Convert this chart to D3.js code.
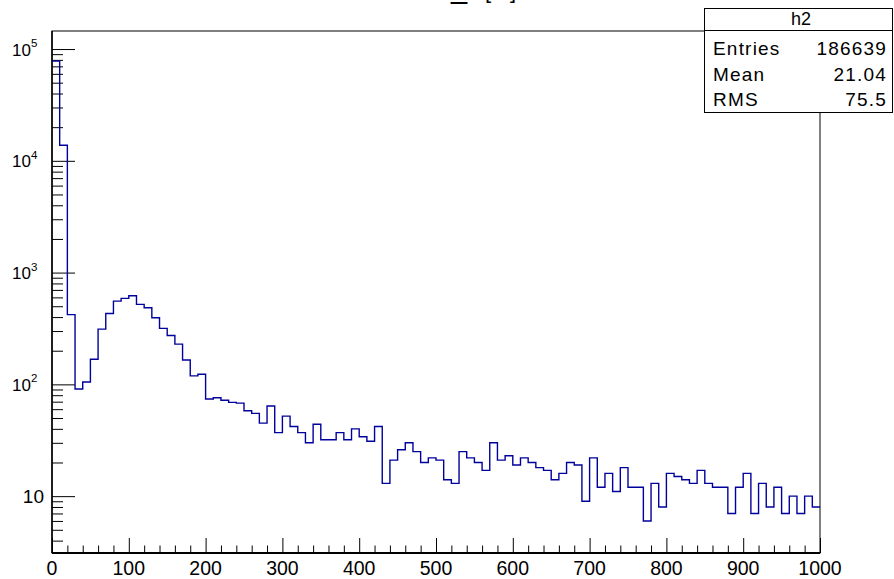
<!DOCTYPE html>
<html>
<head>
<meta charset="utf-8">
<script src="https://cdn.jsdelivr.net/npm/d3@7"></script>
<style>
  body { margin: 0; background: #fff; }
  svg { display: block; font-family: "Liberation Sans", Arial, Helvetica, sans-serif; }
</style>
</head>
<body>
<svg id="chart" width="894" height="579"></svg>
<script>
'use strict';

// histogram h2: 100 bins of width 10 from 0 to 1000
var binWidth = 10
var binCounts = [
    78000, 13800, 421, 91, 105, 168, 312, 431, 556, 588,
    620, 520, 485, 394, 317, 274, 229, 165, 119, 123,
    74, 76, 72, 69, 68, 58, 55, 45, 64, 37,
    52, 42, 37, 30, 44, 32, 32, 37, 32, 40,
    34, 31, 42, 13, 21, 26, 30, 25, 20, 22,
    21, 14, 13, 25, 22, 20, 17, 30, 21, 23,
    19, 22, 20, 18, 17, 14, 16, 20, 19, 9,
    22, 12, 16, 11, 18, 12, 12, 6, 13, 8,
    16, 15, 14, 13, 17, 13, 12, 12, 7, 12,
    16, 7, 13, 8, 12, 7, 10, 7, 10, 8
]
var xMajorTicks = [0, 100, 200, 300, 400, 500, 600, 700, 800, 900, 1000]
var yDecades = [1, 2, 3, 4, 5]
var statsRows = [["Entries", "186639"], ["Mean", "21.04"], ["RMS", "75.5"]]
var histName = "h2"

var svg = d3.select("#chart")
var frameLeft = 52, frameRight = 820, frameTop = 31, frameBottom = 553
var lineColor = "#00009c"

var x = d3.scaleLinear().domain([0, 1000]).range([frameLeft, frameRight])
var y = d3.scaleLog().domain([3.1, 1.45e5]).range([frameBottom, frameTop])

// minor ticks for the log axis
var yMinor = []
for (var e = 0; e <= 5; e++) {
    for (var m = 2; m <= 9; m++) {
        var v = m * Math.pow(10, e)
        if (v >= y.domain()[0] && v <= y.domain()[1]) yMinor.push(v)
    }
}
var yMajor = yDecades.map(function(d) { return Math.pow(10, d) })
var xMinor = d3.range(0, 1001, 20).filter(function(d) { return d % 100 !== 0 })

// title, cut off by the top edge as in the original canvas
var title = svg.append("text")
    .attr("y", -2.5)
    .attr("font-size", 22)
    .attr("fill", "#000")
title.append("tspan").attr("x", 451).attr("font-size", 29).text("_")
title.append("tspan").attr("x", 485).text("[")
title.append("tspan").attr("x", 494).text("0")
title.append("tspan").attr("x", 510).text("]")

// frame
svg.append("rect")
    .attr("x", frameLeft).attr("y", frameTop)
    .attr("width", frameRight - frameLeft).attr("height", frameBottom - frameTop)
    .attr("fill", "none").attr("stroke", "#000").attr("stroke-width", 1)

function styleAxis(g) {
    g.select(".domain").remove()
    g.selectAll("text").remove()
    g.selectAll("line").attr("stroke", "#000").attr("stroke-width", 1)
}

// y axis: ticks point inward
svg.append("g")
    .attr("transform", "translate(" + frameLeft + ",0)")
    .call(d3.axisLeft(y).tickValues(yMajor).tickSizeInner(-23).tickSizeOuter(0))
    .call(styleAxis)
svg.append("g")
    .attr("transform", "translate(" + frameLeft + ",0)")
    .call(d3.axisLeft(y).tickValues(yMinor).tickSizeInner(-11).tickSizeOuter(0))
    .call(styleAxis)

// x axis
svg.append("g")
    .attr("transform", "translate(0," + frameBottom + ")")
    .call(d3.axisBottom(x).tickValues(xMajorTicks).tickSizeInner(-15).tickSizeOuter(0))
    .call(styleAxis)
svg.append("g")
    .attr("transform", "translate(0," + frameBottom + ")")
    .call(d3.axisBottom(x).tickValues(xMinor).tickSizeInner(-7.5).tickSizeOuter(0))
    .call(styleAxis)

svg.append("line")
    .attr("x1", frameLeft).attr("x2", frameRight).attr("y1", frameBottom).attr("y2", frameBottom)
    .attr("stroke", "#000").attr("stroke-width", 2)
svg.append("line")
    .attr("x1", frameLeft).attr("x2", frameLeft).attr("y1", frameTop).attr("y2", frameBottom)
    .attr("stroke", "#000").attr("stroke-width", 1.5)

// x tick labels
svg.append("g").selectAll("text")
    .data(xMajorTicks)
    .enter().append("text")
    .attr("x", function(d) { return x(d) })
    .attr("y", 575)
    .attr("text-anchor", "middle")
    .attr("font-size", 19.5)
    .text(function(d) { return d })

// y tick labels: 10 plain, others as powers of ten
var yLabels = svg.append("g").selectAll("g")
    .data(yDecades)
    .enter().append("g")
yLabels.append("text")
    .attr("x", function(d) { return d === 1 ? 44 : 31 })
    .attr("y", function(d) { return y(Math.pow(10, d)) + 6.5 })
    .attr("text-anchor", "end")
    .attr("font-size", function(d) { return d === 1 ? 19 : 17 })
    .text("10")
yLabels.filter(function(d) { return d !== 1 }).append("text")
    .attr("x", 31)
    .attr("y", function(d) { return y(Math.pow(10, d)) - 2 })
    .attr("font-size", 11.5)
    .text(function(d) { return d })

// histogram outline
var steps = binCounts.map(function(c, i) { return [i * binWidth, c] })
steps.push([binCounts.length * binWidth, binCounts[binCounts.length - 1]])
var stepLine = d3.line()
    .x(function(d) { return x(d[0]) })
    .y(function(d) { return y(d[1]) })
    .curve(d3.curveStepAfter)
svg.append("path")
    .datum(steps)
    .attr("d", stepLine)
    .attr("fill", "none")
    .attr("stroke", lineColor)
    .attr("stroke-width", 1.4)

// stats box
var box = svg.append("g")
box.append("rect")
    .attr("x", 704.5).attr("y", 8.5)
    .attr("width", 188).attr("height", 104)
    .attr("fill", "#fff").attr("stroke", "#000").attr("stroke-width", 1)
box.append("line")
    .attr("x1", 704.5).attr("x2", 892.5).attr("y1", 30.5).attr("y2", 30.5)
    .attr("stroke", "#000").attr("stroke-width", 1)
box.append("text")
    .attr("x", 801).attr("y", 25)
    .attr("text-anchor", "middle")
    .attr("font-size", 18)
    .text(histName)
var rows = box.selectAll("g.row")
    .data(statsRows)
    .enter().append("g")
    .attr("class", "row")
rows.append("text")
    .attr("x", 713)
    .attr("y", function(d, i) { return 55 + i * 25.5 })
    .attr("font-size", 19)
    .attr("letter-spacing", 1.2)
    .text(function(d) { return d[0] })
rows.append("text")
    .attr("x", 887)
    .attr("y", function(d, i) { return 55 + i * 25.5 })
    .attr("text-anchor", "end")
    .attr("font-size", 19)
    .attr("letter-spacing", 1.2)
    .text(function(d) { return d[1] })
</script>
</body>
</html>
